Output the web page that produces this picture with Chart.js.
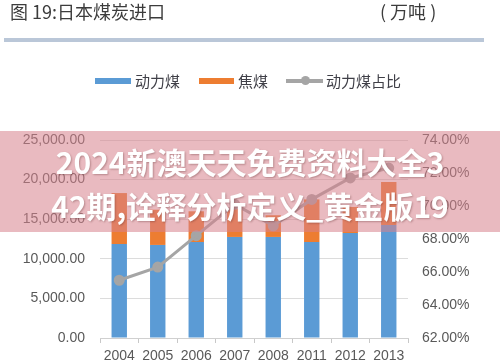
<!DOCTYPE html>
<html>
<head>
<meta charset="utf-8">
<script src="https://cdn.jsdelivr.net/npm/chart.js@4.4.0/dist/chart.umd.min.js"></script>
<style>
  html, body { margin: 0; padding: 0; background: #fff; }
  body { width: 500px; height: 364px; position: relative; overflow: hidden;
         font-family: "Noto Sans CJK SC", "Liberation Sans", sans-serif; }
  #chart { position: absolute; left: 0; top: 0; }
  .title { position: absolute; top: 0; font-size: 18px; color: #3c3c3c; line-height: 22px; }
  .rule { position: absolute; left: 4px; top: 38px; width: 480px; height: 4px; background: #bac7d8; }
  .legend { position: absolute; top: 72px; left: 0; width: 500px; height: 18px; font-size: 15px; color: #404048; }
  .legend span { position: absolute; top: 0; line-height: 18px; }
  .sw { position: absolute; height: 6px; top: 6px; }
  .banner { position: absolute; left: 0; top: 131px; width: 500px; height: 101px; background: rgba(215,130,140,0.55); }
  .btxt { position: absolute; left: 0; width: 500px; text-align: center; color: #fff; font-weight: 700;
          font-size: 30px; line-height: 40px; text-shadow: 1px 1px 2px rgba(90,40,40,0.35); }
</style>
</head>
<body>
<canvas id="chart" width="500" height="364"></canvas>

<div class="title" style="left:10px;">图 19:日本煤炭进口</div>
<div class="title" style="left:380px;">( 万吨 )</div>
<div class="rule"></div>

<div class="legend">
  <div class="sw" style="left:95px; width:36px; background:#5b9bd5;"></div>
  <span style="left:135px;">动力煤</span>
  <div class="sw" style="left:199px; width:35px; background:#ed7d31;"></div>
  <span style="left:238px;">焦煤</span>
  <div class="sw" style="left:286px; width:37px; height:4px; top:7px; background:#a5a5a5;"></div>
  <div class="sw" style="left:301px; width:9px; height:9px; top:4px; border-radius:50%; background:#a5a5a5;"></div>
  <span style="left:326px;">动力煤占比</span>
</div>

<div class="banner"></div>
<div class="btxt" style="top:141px;">2024新澳天天免费资料大全3</div>
<div class="btxt" style="top:185px;">42期,诠释分析定义_黄金版19</div>

<script>
// data (万吨 and %)
const years = ['2004', '2005', '2006', '2007', '2008', '2011', '2012', '2013'];
const thermalCoal = [11870, 11750, 12120, 12760, 12760, 12120, 13260, 14270];
const cokingCoal  = [6430, 4450, 3880, 3540, 2740, 5380, 3290, 5430];
const thermalShare = [65.5, 66.3, 68.2, 70.1, 68.8, 70.4, 71.7, 72.3];

const leftTicks = [0, 5000, 10000, 15000, 20000, 25000];
const rightTicks = [62, 64, 66, 68, 70, 72, 74];

const tickFont = { family: 'Liberation Sans', size: 14 };
const tickColor = '#595959';

new Chart(document.getElementById('chart'), {
  data: {
    labels: years,
    datasets: [
      {
        type: 'bar', label: '动力煤', data: thermalCoal, yAxisID: 'y', order: 1,
        backgroundColor: '#5b9bd5', barPercentage: 0.4, categoryPercentage: 1
      },
      {
        type: 'bar', label: '焦煤', data: cokingCoal, yAxisID: 'y', order: 1,
        backgroundColor: '#ed7d31', barPercentage: 0.4, categoryPercentage: 1
      },
      {
        type: 'line', label: '动力煤占比', data: thermalShare, yAxisID: 'y1', order: 0,
        borderColor: '#a5a5a5', borderWidth: 3, pointRadius: 4,
        pointBackgroundColor: '#a5a5a5', pointBorderColor: '#a5a5a5', tension: 0
      }
    ]
  },
  options: {
    responsive: false,
    devicePixelRatio: 1,
    animation: false,
    layout: { padding: { top: 140, left: 0, right: 0, bottom: 0 } },
    plugins: { legend: { display: false }, tooltip: { enabled: false } },
    scales: {
      x: {
        stacked: true,
        grid: { drawOnChartArea: false, drawTicks: true, tickLength: 5, color: '#c8c8c8', offset: true },
        border: { color: '#d0d0d0' },
        ticks: { font: tickFont, color: tickColor, padding: 5, maxRotation: 0, autoSkip: false },
        afterFit: s => { s.height = 26; }
      },
      y: {
        stacked: true,
        position: 'left',
        min: 0, max: 25000,
        afterBuildTicks: s => { s.ticks = leftTicks.map(v => ({ value: v })); },
        grid: { color: '#dcdcdc', drawTicks: false },
        border: { display: false },
        ticks: {
          font: tickFont, color: tickColor, padding: 15,
          callback: v => v.toLocaleString('en-US', { minimumFractionDigits: 2, maximumFractionDigits: 2 })
        },
        afterFit: s => { s.width = 100; }
      },
      y1: {
        position: 'right',
        min: 62, max: 74,
        afterBuildTicks: s => { s.ticks = rightTicks.map(v => ({ value: v })); },
        grid: { display: false, drawTicks: false },
        border: { display: false },
        ticks: { font: tickFont, color: tickColor, padding: 14, callback: v => v.toFixed(2) + '%' },
        afterFit: s => { s.width = 92; }
      }
    }
  }
});
</script>
</body>
</html>
